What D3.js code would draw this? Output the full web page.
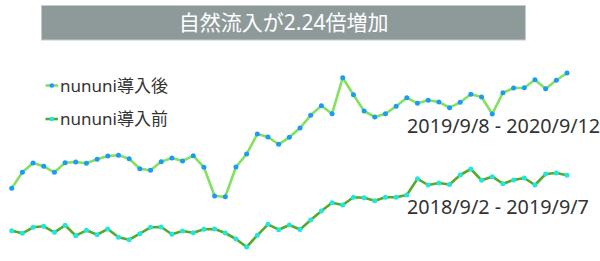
<!doctype html>
<html lang="ja">
<head>
  <meta charset="utf-8">
  <title>nununi</title>
  <script src="https://d3js.org/d3.v7.min.js"></script>
  <style>
  body { margin: 0; background: #fff; }
  text { font-family: "Noto Sans", "Noto Sans CJK JP", sans-serif; }
  </style>
</head>
<body>
<script>
  // weekly values (no axis shown, arbitrary units)
  var after_vals = [71.7, 87.7, 97, 93.7, 87.7, 97.3, 98, 96.7, 100.7, 104,
    104.7, 101.3, 91.3, 89.7, 98.3, 102, 99, 104.3, 92.7, 64,
    63.3, 93, 106, 126, 123, 115.7, 122.7, 132, 144.7, 154.3,
    146.3, 182.3, 165.3, 149, 143, 146.3, 153.7, 162.3, 156.7, 159.7,
    158, 152.3, 157.7, 165.7, 163, 146, 167.3, 172, 172.3, 180.3,
    171.3, 179.7, 187]
  var before_vals = [29.3, 26.7, 32.7, 33.7, 27.7, 34.7, 24.3, 29.7, 25.3, 31,
    22.7, 20.3, 26.3, 32.7, 33, 25.7, 29, 27.3, 30.7, 31,
    27, 21, 13, 24.7, 35.7, 30.3, 35, 30.5, 40, 49,
    57.3, 55, 62.7, 62.3, 59.3, 62.7, 62.7, 65, 81.2, 75,
    77, 75.5, 85, 91, 79.7, 83.3, 76.3, 80, 82, 75,
    86, 87, 84.7]
  var series_names = ["nununi導入後", "nununi導入前"]
  var range_labels = ["2019/9/8 - 2020/9/12", "2018/9/2 - 2019/9/7"]
  var title_text = "自然流入が2.24倍増加"

  var width = 600, height = 261
  var weeks = d3.range(after_vals.length)

  var svg = d3.select("body").append("svg")
      .attr("width", width)
      .attr("height", height)

  var x = d3.scalePoint().domain(weeks).range([11.7, 567])
  var y = d3.scaleLinear().domain([0, 200]).range([260, 60])

  // title box
  svg.append("rect")
      .attr("x", 41.5).attr("y", 5.5)
      .attr("width", 484).attr("height", 34.5)
      .attr("fill", "#8e9a9a")
      .attr("stroke", "#c4cccc").attr("stroke-width", 1)
  svg.append("text")
      .attr("x", 283.7).attr("y", 30)
      .attr("text-anchor", "middle")
      .attr("fill", "#fff")
      .style("font-size", "21px")
      .text(title_text)

  var styles = [
    {line: "#84e060", dot: "#1b9cf2"},
    {line: "#55aa2c", dot: "#22e6dc"}
  ]

  function draw_series(vals, st){
    var line = d3.line()
        .x(function(d, i) { return x(i); })
        .y(function(d) { return y(d); })
    svg.append("path")
        .datum(vals)
        .attr("d", line)
        .attr("fill", "none")
        .attr("stroke", st.line)
        .attr("stroke-width", 2.6)
        .attr("stroke-linejoin", "round")
    svg.append("g").selectAll("circle")
        .data(vals)
      .enter().append("circle")
        .attr("cx", function(d, i) { return x(i); })
        .attr("cy", function(d) { return y(d); })
        .attr("r", 2.5)
        .attr("fill", st.dot)
  }

  draw_series(before_vals, styles[1])
  draw_series(after_vals, styles[0])

  // legend
  var legend = svg.append("g")
  series_names.forEach(function(name, i){
    var ly = 85.5 + i * 33.5
    legend.append("line")
        .attr("x1", 45.5).attr("x2", 58)
        .attr("y1", ly).attr("y2", ly)
        .attr("stroke", styles[i].line).attr("stroke-width", 2.6)
    legend.append("circle")
        .attr("cx", 51.8).attr("cy", ly).attr("r", 2.3)
        .attr("fill", styles[i].dot)
    legend.append("text")
        .attr("x", 60).attr("y", ly + 6)
        .attr("fill", "#333")
        .style("font-size", "17px")
        .text(name)
  })

  // period labels
  svg.append("text")
      .attr("x", 407).attr("y", 133.3)
      .attr("fill", "#333")
      .style("font-size", "19.8px")
      .text(range_labels[0])
  svg.append("text")
      .attr("x", 407).attr("y", 214.3)
      .attr("fill", "#333")
      .style("font-size", "19.8px")
      .text(range_labels[1])
</script>
</body>
</html>
